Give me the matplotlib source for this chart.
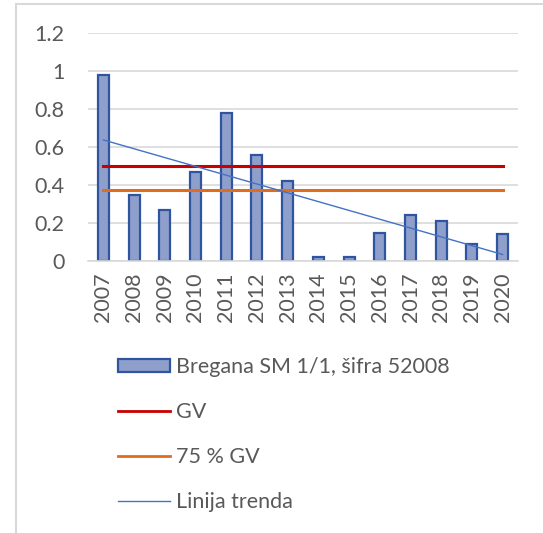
import numpy as np
import matplotlib
matplotlib.use("Agg")
import matplotlib.pyplot as plt
from matplotlib.patches import Rectangle
from matplotlib.lines import Line2D

years = ["2007", "2008", "2009", "2010", "2011", "2012", "2013",
         "2014", "2015", "2016", "2017", "2018", "2019", "2020"]
values = [0.98, 0.35, 0.27, 0.47, 0.78, 0.56, 0.42,
          0.02, 0.02, 0.15, 0.24, 0.21, 0.09, 0.14]
gv = 0.5
gv75 = 0.375
yticks = [0, 0.2, 0.4, 0.6, 0.8, 1, 1.2]
ytick_labels = ["0", "0.2", "0.4", "0.6", "0.8", "1", "1.2"]
series_label = "Bregana SM 1/1, šifra 52008"
gv_label = "GV"
gv75_label = "75 % GV"
trend_label = "Linija trenda"

plt.rcParams['font.family'] = ['Lato', 'DejaVu Sans']
W, H = 543, 533
fig = plt.figure(figsize=(W / 100, H / 100), dpi=100)

# chart border (left and top visible)
fig.patches.append(Rectangle((16 / W, -0.1), 1.2, 1 - 4 / H + 0.1,
                             transform=fig.transFigure, fill=False,
                             edgecolor="#d9d9d9", linewidth=1.5))

ax = fig.add_axes([88 / W, 1 - 261 / H, (518 - 88) / W, (261 - 33) / H])
x = np.arange(len(years))
text_color = "#595959"
fs = 15.5

ax.bar(x, values, width=0.36, color="#8f9fcb", edgecolor="#2f54a0",
       linewidth=1.6, zorder=2)
ax.plot([x[0], x[-1]], [gv, gv], color="#c80000", linewidth=2.2, zorder=3)
ax.plot([x[0], x[-1]], [gv75, gv75], color="#e06c1e", linewidth=2.2, zorder=3)
coef = np.polyfit(x, values, 1)
ax.plot([x[0], x[-1]], np.polyval(coef, [x[0], x[-1]]), color="#4472c4",
        linewidth=1.0, zorder=4)

ax.set_xlim(-0.5, len(years) - 0.5)
ax.set_ylim(0, 1.2)
ax.set_yticks(yticks)
ax.set_yticklabels(ytick_labels)
ax.set_xticks(x)
ax.set_xticklabels(years, rotation=90)
ax.tick_params(axis="both", length=0, colors=text_color, labelsize=fs)
ax.tick_params(axis="y", pad=17)
ax.tick_params(axis="x", pad=8)
ax.grid(axis="y", color="#d9d9d9", linewidth=1.2, zorder=0)
for s in ["top", "right", "left"]:
    ax.spines[s].set_visible(False)
ax.spines["bottom"].set_color("#d9d9d9")
ax.spines["bottom"].set_linewidth(1.2)
ax.set_axisbelow(True)

handles = [
    Rectangle((0, 0), 1, 1, facecolor="#8f9fcb", edgecolor="#2f54a0", linewidth=1.6),
    Line2D([], [], color="#c80000", linewidth=2.0),
    Line2D([], [], color="#e06c1e", linewidth=2.0),
    Line2D([], [], color="#4472c4", linewidth=1.0),
]
labels = [series_label, gv_label, gv75_label, trend_label]
leg = fig.legend(handles, labels, loc="upper left",
                 bbox_to_anchor=(118 / W, 1 - 357 / H),
                 frameon=False, fontsize=fs, labelcolor=text_color,
                 handlelength=2.4, handleheight=0.6, handletextpad=0.3,
                 labelspacing=1.16, borderaxespad=0, borderpad=0)

fig.savefig("out.png", dpi=100)
